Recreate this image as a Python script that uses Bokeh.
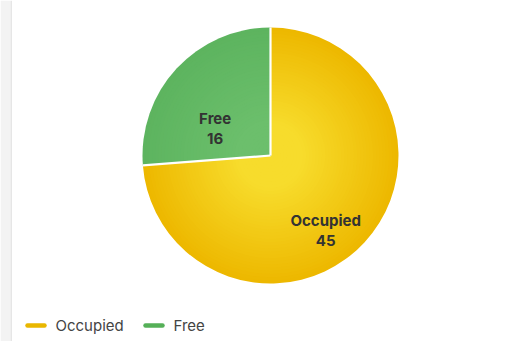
import numpy as np
from bokeh.plotting import figure
from bokeh.models import Range1d
from bokeh.core.properties import value
from bokeh.embed import file_html
from bokeh.resources import INLINE

# ---- data ----
labels = ["Occupied", "Free"]
counts = [45, 16]

# ---- styles ----
edge_colors = ["#EDB800", "#5DB45F"]
center_colors = ["#F7DC2C", "#6CBF6C"]
legend_colors = ["#E9B700", "#55B058"]
label_color = "#333333"
legend_text_color = "#444444"

W, H = 513, 341
cx, cy, R = 270, 186, 128
label_r = [0.73, 0.48]          # label radius fraction
label_shift = [-11.0, 17.0]     # degrees shift from slice mid-angle
legend_x = [27, 145]
legend_y = 16

p = figure(width=W, height=H, x_range=Range1d(0, W), y_range=Range1d(0, H),
           output_backend="svg", toolbar_location=None, min_border=0)
p.axis.visible = False
p.grid.visible = False
p.outline_line_color = None
p.background_fill_color = "white"
p.border_fill_color = "white"

# faint left panel strip
p.quad(left=[0], right=[10], bottom=[0], top=[H], fill_color="#F3F3F3", line_color=None)
p.quad(left=[10], right=[11.5], bottom=[0], top=[H], fill_color="#E6E6E6", line_color=None)

total = sum(counts)
cum = np.cumsum(counts) / total
prev = np.concatenate([[0.0], cum[:-1]])
starts = np.pi / 2 - 2 * np.pi * cum      # anticlockwise start
ends = np.pi / 2 - 2 * np.pi * prev


def hex2rgb(h):
    h = h.lstrip("#")
    return np.array([int(h[i:i + 2], 16) for i in (0, 2, 4)], dtype=float)


def rgb2hex(c):
    return "#%02x%02x%02x" % tuple(int(round(v)) for v in c)


# radial-gradient-like fill with concentric wedges
n_rings = 40
for i in range(len(counts)):
    e = hex2rgb(edge_colors[i])
    c = hex2rgb(center_colors[i])
    radii = []
    cols = []
    for k in range(n_rings):
        t = k / (n_rings - 1)
        r = R * (1 - t * 0.97)
        radii.append(r)
        w = min(1.0, t * 1.3)
        cols.append(rgb2hex(e * (1 - w) + c * w))
    p.wedge(x=[cx] * n_rings, y=[cy] * n_rings, radius=radii,
            start_angle=[starts[i]] * n_rings, end_angle=[ends[i]] * n_rings,
            fill_color=cols, line_color=None)

# white separators
bounds = np.pi / 2 - 2 * np.pi * np.concatenate([[0.0], cum[:-1]])
p.segment(x0=[cx] * len(bounds), y0=[cy] * len(bounds),
          x1=cx + R * np.cos(bounds), y1=cy + R * np.sin(bounds),
          line_color="white", line_width=2.2)

# slice labels
mids = (starts + ends) / 2 + np.radians(label_shift)
lx = cx + R * np.array(label_r) * np.cos(mids)
ly = cy + R * np.array(label_r) * np.sin(mids)
p.text(x=lx, y=ly + 10, text=labels, text_align="center", text_baseline="middle",
       text_font=value("Inter"), text_font_style="bold", text_font_size="15px",
       text_color=label_color)
p.text(x=lx, y=ly - 10, text=[str(c) for c in counts], text_align="center",
       text_baseline="middle", text_font=value("Inter"), text_font_style="bold",
       text_font_size="15px", text_color=label_color)

# legend
lxs = np.array(legend_x, dtype=float)
p.segment(x0=lxs, y0=[legend_y] * 2, x1=lxs + 17, y1=[legend_y] * 2,
          line_color=legend_colors, line_width=4.5, line_cap="round")
p.text(x=lxs + 28, y=[legend_y] * 2, text=labels, text_align="left",
       text_baseline="middle", text_font=value("Inter"), text_font_size="15px",
       text_color=legend_text_color)

open("out.html", "w").write(file_html(p, INLINE))
